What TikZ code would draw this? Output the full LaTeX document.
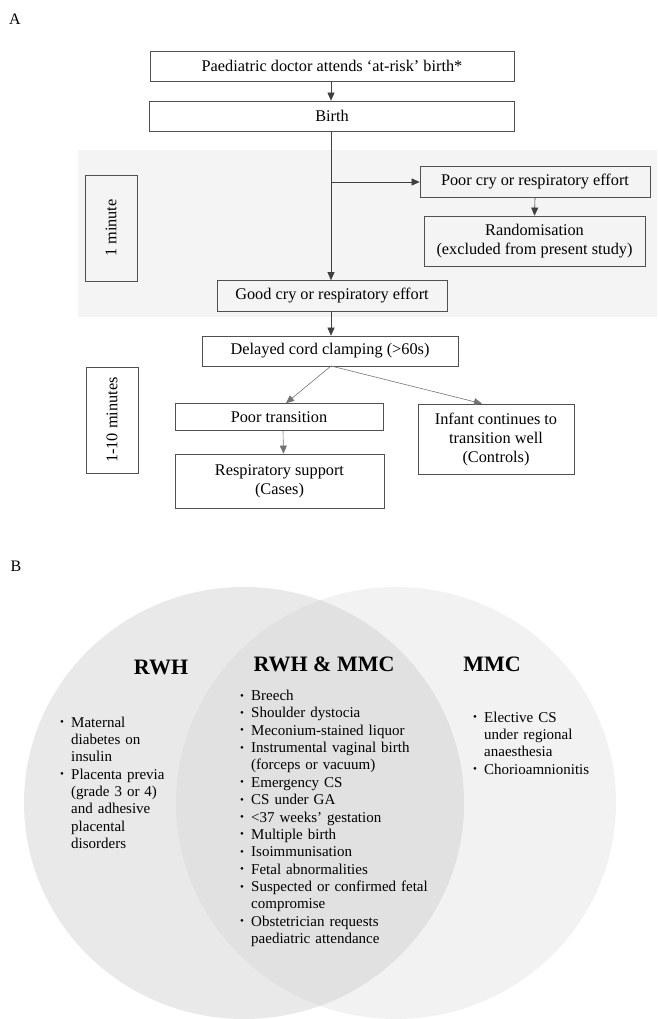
\documentclass[tikz,border=0pt]{standalone}
\usepackage{fontspec}
\setmainfont{Liberation Serif}
\usetikzlibrary{arrows.meta,calc}
\definecolor{band}{HTML}{F4F4F4}
\definecolor{lcirc}{HTML}{E9E9E9}
\definecolor{rcirc}{HTML}{F2F2F2}
\definecolor{ovl}{HTML}{E1E1E1}
\definecolor{boxline}{HTML}{505050}
\newcommand{\bitem}[1]{\par\hangindent=11.5pt\hangafter=1\noindent\makebox[11.5pt][l]{\hspace{0.5pt}\raisebox{0.2ex}{\fontsize{11}{11}\selectfont\textbullet}}#1}
\tikzset{
  fbox/.style={draw=boxline, line width=0.7pt, minimum height=30pt, inner sep=2pt, align=center, font=\fontsize{16.3}{19}\selectfont},
  sidebox/.style={draw=boxline, line width=0.7pt, inner sep=0pt},
  conn/.style={draw=black!75, line width=0.6pt, -{Triangle[length=8pt,width=7pt]}},
  vtitle/.style={font=\fontsize{22}{24}\selectfont\bfseries},
  vlist/.style={anchor=north west, align=left, inner sep=0pt, font=\fontsize{15}{17.35}\selectfont},
  panel/.style={font=\fontsize{16}{18}\selectfont}
}
\begin{document}
\begin{tikzpicture}[x=1pt,y=-1pt]
\useasboundingbox (0,0) rectangle (657,1019);
% panel labels
\node[panel] (labA) at (15,19) {A};
\node[panel] (labB) at (16,566) {B};
% gray band
\fill[band] (78,150) rectangle (657,317);
% boxes
\node[fbox, minimum width=364pt] (doc) at (332,66) {Paediatric doctor attends ‘at-risk’ birth*};
\node[fbox, minimum width=365pt] (birth) at (332,116) {Birth};
\node[fbox, minimum width=230pt, minimum height=31pt] (poor) at (535,182) {Poor cry or respiratory effort};
\node[fbox, minimum width=221pt, minimum height=50pt] (rand) at (534.5,241) {Randomisation\\(excluded from present study)};
\node[fbox, minimum width=230pt, minimum height=31pt] (good) at (332,296) {Good cry or respiratory effort};
\node[fbox, minimum width=256pt, minimum height=30pt] (dcc) at (330,351) {Delayed cord clamping (>60s)};
\node[fbox, minimum width=208pt, minimum height=27pt] (ptr) at (279,417) {Poor transition};
\node[fbox, minimum width=209pt, minimum height=54pt] (resp) at (279.5,481) {Respiratory support\\(Cases)};
\node[fbox, minimum width=156pt, minimum height=70pt] (inf) at (496,439) {Infant continues to\\transition well\\(Controls)};
% side boxes
\node[sidebox, minimum width=52pt, minimum height=106pt] (m1) at (111,228) {};
\node[rotate=90, font=\fontsize{16.3}{19}\selectfont] (m1t) at (m1.center) {1 minute};
\node[sidebox, minimum width=52pt, minimum height=106pt] (m10) at (112,420) {};
\node[rotate=90, font=\fontsize{16.3}{19}\selectfont] (m10t) at (m10.center) {1-10 minutes};
% connectors
\draw[conn] (doc.south -| 331,0) -- (birth.north -| 331,0);
\coordinate (br) at (331,182);
\draw[conn] (birth.south -| 331,0) -- (good.north -| 331,0);
\draw[conn] (br) -- (poor.west);
\draw[conn] (poor.south) -- (rand.north);
\draw[conn] (good.south -| 331,0) -- (dcc.north -| 331,0);
\coordinate (dcs) at (331,366);
\draw[conn, draw=black!55] (dcs) -- ([xshift=7pt]ptr.north);
\draw[conn, draw=black!55] (dcs) -- ([xshift=-14pt]inf.north);
\draw[conn, draw=black!55] ([xshift=4pt]ptr.south) -- ([xshift=4pt]resp.north);
% Venn
\begin{scope}
\clip (0,0) rectangle (657,1019);
\fill[rcirc] (396,803) ellipse [x radius=220, y radius=216];
\fill[lcirc] (244,803) ellipse [x radius=220, y radius=216];
\begin{scope}
\clip (244,803) ellipse [x radius=220, y radius=216];
\fill[ovl] (396,803) ellipse [x radius=220, y radius=216];
\end{scope}
\end{scope}
\node[vtitle] (trwh) at (161,667) {RWH};
\node[vtitle] (tboth) at (324,664) {RWH \& MMC};
\node[vtitle] (tmmc) at (492,664) {MMC};
\node[vlist, text width=150pt] (lleft) at (59.5,709.5) {%
\bitem{Maternal\newline diabetes on\newline insulin}
\bitem{Placenta previa\newline (grade 3 or 4)\newline and adhesive\newline placental\newline disorders}\par};
\node[vlist, text width=230pt] (lmid) at (239.5,683) {%
\bitem{Breech}
\bitem{Shoulder dystocia}
\bitem{Meconium-stained liquor}
\bitem{Instrumental vaginal birth\newline (forceps or vacuum)}
\bitem{Emergency CS}
\bitem{CS under GA}
\bitem{<37 weeks’ gestation}
\bitem{Multiple birth}
\bitem{Isoimmunisation}
\bitem{Fetal abnormalities}
\bitem{Suspected or confirmed fetal\newline compromise}
\bitem{Obstetrician requests\newline paediatric attendance}\par};
\node[vlist, text width=150pt] (lright) at (472.5,704.5) {%
\bitem{Elective CS\newline under regional\newline anaesthesia}
\bitem{Chorioamnionitis}\par};
\end{tikzpicture}
\end{document}
